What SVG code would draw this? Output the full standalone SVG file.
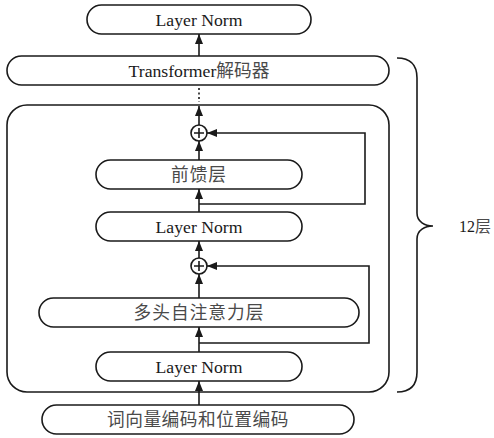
<svg xmlns="http://www.w3.org/2000/svg" width="494" height="438" viewBox="0 0 494 438">
<style>
.box{fill:#fff;stroke:#1a1a1a;stroke-width:1.6}
.t{font-family:"Liberation Serif","Noto Sans CJK SC",serif;font-size:17.7px;fill:#1a1a1a;text-anchor:middle}
.c{fill:#4a4a4a;letter-spacing:1px}
.ln{fill:none;stroke:#1a1a1a;stroke-width:1.6}
.ar{marker-end:url(#ah)}
</style>
<defs>
<marker id="ah" viewBox="0 0 10 8" refX="10" refY="4" markerWidth="10" markerHeight="8" orient="auto" markerUnits="userSpaceOnUse">
<path d="M0,0 L10,4 L0,8 z" fill="#1a1a1a"/>
</marker>
</defs>
<rect class="box" x="7" y="105" width="382" height="287" rx="20"/>
<g id="ln-top"><rect class="box" x="87" y="5" width="224" height="29" rx="14.5"/><text class="t" x="199" y="26">Layer Norm</text></g>
<g id="decoder"><rect class="box" x="7" y="56" width="382" height="29" rx="14.5"/><text class="t" x="199" y="77">Transformer<tspan class="c" style="letter-spacing:0">解码器</tspan></text></g>
<g id="add1"><circle class="box" cx="199" cy="133" r="8"/><path class="ln" d="M194,133 H204 M199,128 V138" stroke-width="1"/></g>
<g id="ffn"><rect class="box" x="96" y="160" width="206" height="29" rx="14.5"/><text class="t c" x="199" y="181">前馈层</text></g>
<g id="ln2"><rect class="box" x="96" y="212" width="206" height="29" rx="14.5"/><text class="t" x="199" y="233">Layer Norm</text></g>
<g id="add2"><circle class="box" cx="199" cy="266" r="8"/><path class="ln" d="M194,266 H204 M199,261 V271" stroke-width="1"/></g>
<g id="mha"><rect class="box" x="39" y="298" width="320" height="29" rx="14.5"/><text class="t c" x="199" y="319" style="letter-spacing:1px">多头自注意力层</text></g>
<g id="ln3"><rect class="box" x="96" y="352" width="206" height="29" rx="14.5"/><text class="t" x="199" y="373">Layer Norm</text></g>
<g id="input"><rect class="box" x="42" y="405" width="312" height="29" rx="14.5"/><text class="t c" x="198" y="426" style="letter-spacing:0.5px">词向量编码和位置编码</text></g>
<g id="connectors">
<line class="ln ar" x1="199" y1="56" x2="199" y2="34"/>
<line class="ln" x1="199" y1="88" x2="199" y2="102" stroke-dasharray="2,2.5" stroke-width="2"/>
<line class="ln ar" x1="199" y1="125" x2="199" y2="106"/>
<line class="ln ar" x1="199" y1="160" x2="199" y2="141"/>
<line class="ln ar" x1="199" y1="212" x2="199" y2="189"/>
<path class="ln ar" d="M199,204 H365 V133 H207"/>
<line class="ln ar" x1="199" y1="258" x2="199" y2="241"/>
<line class="ln ar" x1="199" y1="298" x2="199" y2="274"/>
<line class="ln ar" x1="199" y1="352" x2="199" y2="327"/>
<path class="ln ar" d="M199,343 H369 V266 H207"/>
<line class="ln ar" x1="199" y1="405" x2="199" y2="381"/>
</g>
<g id="brace">
<path class="ln" d="M397,58 Q417,58 417,78 V213 C417,222 425,226 433,226 C425,226 417,230 417,239 V372 Q417,392 397,392"/>
<text class="t" x="459" y="232" style="text-anchor:start;font-size:16px">12<tspan class="c">层</tspan></text>
</g>
</svg>
